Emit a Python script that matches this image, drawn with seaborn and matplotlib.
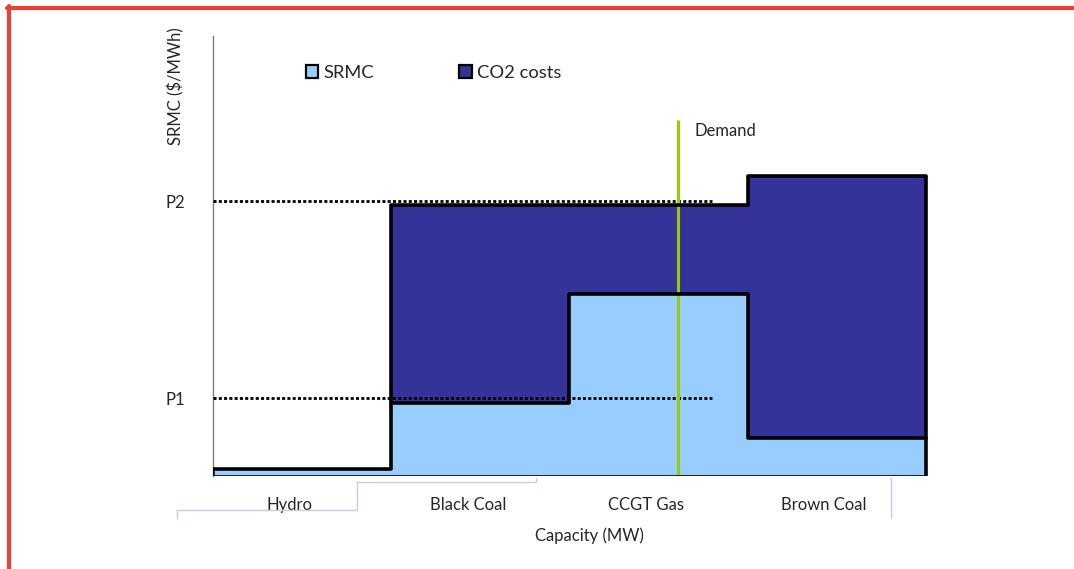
import numpy as np
import pandas as pd
import seaborn as sns
import matplotlib.pyplot as plt
from matplotlib.patches import Patch
from matplotlib.lines import Line2D

# Merit order data (capacity blocks of equal size, SRMC and CO2 cost per block)
plants = ['Hydro', 'Black Coal', 'CCGT Gas', 'Brown Coal']
capacity = [1.0, 1.0, 1.0, 1.0]
srmc = [1.6, 16.6, 41.4, 8.6]
co2_cost = [0.0, 45.0, 20.2, 59.6]
price_labels = ['P1', 'P2']
price_levels = [17.7, 62.5]
price_line_end = 2.8
demand = 2.61
demand_top = 81.0

light_blue = '#99CCFF'
dark_blue = '#333399'

sns.set_theme(style='white')
plt.rcParams['font.family'] = ['Lato', 'DejaVu Sans']

# Build step arrays from the blocks
edges = np.concatenate([[0], np.cumsum(capacity)])
total = [s + c for s, c in zip(srmc, co2_cost)]
steps = pd.DataFrame({
    'x': edges,
    'srmc': srmc + [srmc[-1]],
    'total': total + [total[-1]],
})

fig = plt.figure(figsize=(10.74, 5.69), dpi=100)
ax = fig.add_axes([213 / 1074, 93 / 569, 784 / 1074, 440 / 569])

ax.fill_between(steps['x'], 0, steps['srmc'], step='post', color=light_blue, lw=0, zorder=1)
ax.fill_between(steps['x'], steps['srmc'], steps['total'], step='post', color=dark_blue, lw=0, zorder=1)

# Price levels (dotted)
for lvl in price_levels:
    ax.plot([0, price_line_end], [lvl, lvl], color='black', lw=2, dashes=(1.1, 0.8), zorder=3)

# Demand line
ax.vlines(demand, 0, demand_top, color='#99CC00', lw=2.2, zorder=4)
ax.text(demand + 0.09, demand_top - 2.5, 'Demand', fontsize=12, va='center', ha='left')

# Outlines
sns.lineplot(data=steps.iloc[1:], x='x', y='srmc', drawstyle='steps-post', color='black',
             lw=2.6, ax=ax, zorder=5)
sns.lineplot(data=steps, x='x', y='total', drawstyle='steps-post', color='black',
             lw=2.6, ax=ax, zorder=5)
ax.vlines([edges[0]], 0, total[0], color='black', lw=2.6, zorder=5)
ax.vlines([edges[-1]], 0, total[-1], color='black', lw=2.6, zorder=5)
ax.hlines(0, edges[0], edges[-1], color='#222222', lw=1.4, zorder=5)

ax.set_xlim(0, 4.4)
ax.set_ylim(0, 100)

# Axis styling
for s in ['top', 'right', 'bottom']:
    ax.spines[s].set_visible(False)
ax.spines['left'].set_color('#808080')
ax.spines['left'].set_linewidth(1.0)

ax.set_yticks(price_levels)
ax.set_yticklabels(price_labels, fontsize=12)
ax.tick_params(axis='y', length=0, pad=20)
ax.set_xticks(edges[:-1] + 0.43)
ax.set_xticklabels(plants, fontsize=12)
ax.tick_params(axis='x', length=0, pad=15)

ax.set_xlabel('Capacity (MW)', fontsize=12)
ax.xaxis.set_label_coords(0.48, -0.118)
ax.set_ylabel('SRMC ($/MWh)', fontsize=12)
ax.yaxis.set_label_coords(-0.037, 0.885)

# Legend
handles = [Patch(facecolor=light_blue, edgecolor='black', lw=1.6, label='SRMC'),
           Patch(facecolor=dark_blue, edgecolor='black', lw=1.6, label='CO2 costs')]
ax.legend(handles=handles, ncol=2, frameon=False, fontsize=13.2,
          handlelength=0.7, handleheight=0.7, handletextpad=0.3, columnspacing=4.6,
          loc='center left', bbox_to_anchor=(0.118, 0.917), borderaxespad=0, borderpad=0)

# Excel-style category axis bracket lines
lav = '#CBCBE8'
bx = lambda px: (px - 213) / 784
by = lambda py: (476 - py) / 440
for xs, ys in [([177, 177, 357, 357, 536, 536], [518, 510, 510, 482, 482, 478]),
               ([891, 891], [478, 518])]:
    ax.plot([bx(v) for v in xs], [by(v) for v in ys], color=lav, lw=1,
            transform=ax.transAxes, clip_on=False)

# Red frame
fig.add_artist(Line2D([7 / 1074, 1], [1 - 7.5 / 569, 1 - 7.5 / 569], color='#E84232', lw=3,
                      transform=fig.transFigure))
fig.add_artist(Line2D([8.5 / 1074, 8.5 / 1074], [0, 1 - 6 / 569], color='#E84232', lw=3,
                      transform=fig.transFigure))

fig.savefig('out.png', dpi=100)
